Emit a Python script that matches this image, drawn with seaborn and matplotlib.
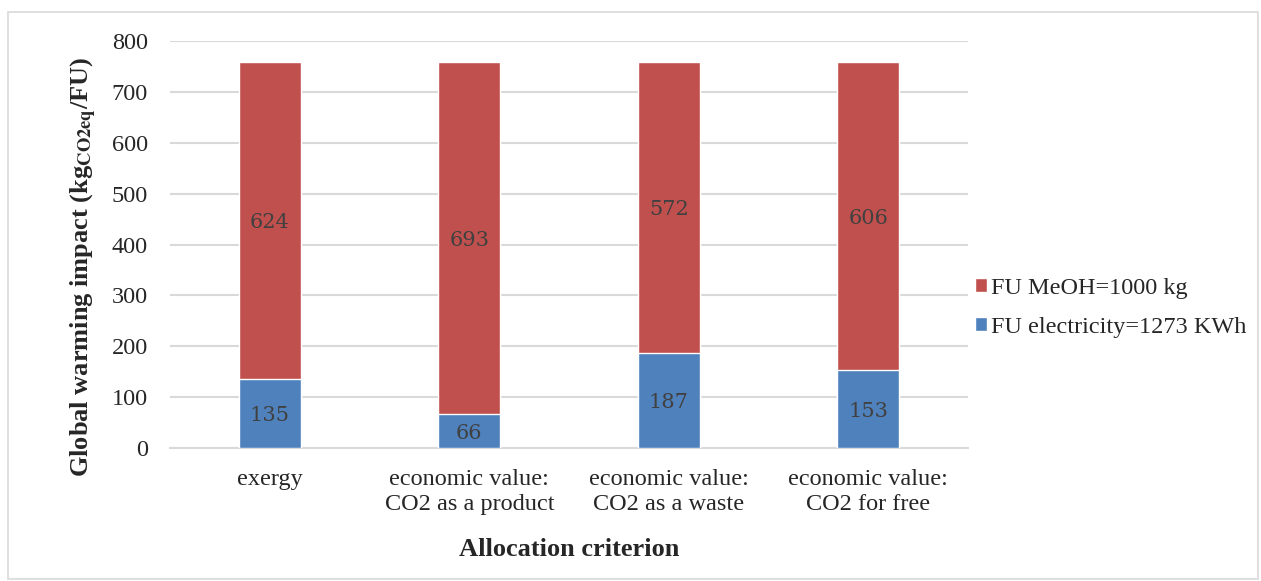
import matplotlib
matplotlib.use("Agg")
import matplotlib.pyplot as plt
import seaborn as sns
import pandas as pd
from matplotlib.patches import Rectangle

categories = ["exergy", "economic value:\nCO2 as a product",
              "economic value:\nCO2 as a waste", "economic value:\nCO2 for free"]
electricity = [135, 66, 187, 153]
meoh = [624, 693, 572, 606]
series_names = ["FU MeOH=1000 kg", "FU electricity=1273 KWh"]
yticks = [0, 100, 200, 300, 400, 500, 600, 700, 800]

RED = "#C0504D"
BLUE = "#4F81BD"

sns.set_theme(style="white")
plt.rcParams['font.family'] = ['Liberation Serif', 'DejaVu Serif']
plt.rcParams['mathtext.fontset'] = 'stix'

df = pd.DataFrame({"cat": categories, "elec": electricity, "meoh": meoh})
df["total"] = df["elec"] + df["meoh"]

fig = plt.figure(figsize=(12.61, 5.81), dpi=100)
ax = fig.add_axes([0.1348, 0.2289, 0.633, 0.7005])

sns.barplot(data=df, x="cat", y="total", color=RED, width=0.31, ax=ax,
            saturation=1, label=series_names[0], zorder=3)
sns.barplot(data=df, x="cat", y="elec", color=BLUE, width=0.31, ax=ax,
            saturation=1, label=series_names[1], zorder=3)

for i, (e, m) in enumerate(zip(electricity, meoh)):
    ax.text(i, e / 2, f"{e}", ha="center", va="center_baseline", fontsize=15,
            color="#404040", family="DejaVu Serif", zorder=4)
    ax.text(i, e + m / 2, f"{m}", ha="center", va="center_baseline", fontsize=15,
            color="#404040", family="DejaVu Serif", zorder=4)

ax.set_ylim(0, 800)
ax.set_yticks(yticks)
ax.set_yticklabels([str(v) for v in yticks], fontsize=17.5)
ax.tick_params(axis='x', labelsize=17.5, pad=15, length=0)
ax.tick_params(axis='y', length=0, pad=16)
for t in ax.get_xticklabels():
    t.set_linespacing(1.28)
ax.yaxis.grid(True, color="#D9D9D9", linewidth=1.5, zorder=0)
ax.set_axisbelow(True)
for s in ["top", "right", "left"]:
    ax.spines[s].set_visible(False)
ax.spines["bottom"].set_color("#D9D9D9")
ax.spines["bottom"].set_linewidth(1.5)

ax.set_xlabel("Allocation criterion", fontsize=19, fontweight="bold", labelpad=16)
ax.set_ylabel(r"Global warming impact (kg$_{\mathbf{CO2eq}}$/FU)", fontsize=19,
              fontweight="bold", labelpad=9)
ax.yaxis.label.set_y(0.445)

handles, labels = ax.get_legend_handles_labels()
ax.legend(handles, labels, loc="center left", bbox_to_anchor=(0.756, 0.47),
          bbox_transform=fig.transFigure, frameon=False, fontsize=17.5,
          handlelength=0.5, handleheight=0.5, handletextpad=0.15, labelspacing=0.75)

fig.patches.append(Rectangle((8 / 1261, 0.003), 1250 / 1261, 1 - 0.003 - 12 / 581,
                             transform=fig.transFigure, fill=False,
                             edgecolor="#D9D9D9", linewidth=1.2))

fig.savefig("out.png", dpi=100)
